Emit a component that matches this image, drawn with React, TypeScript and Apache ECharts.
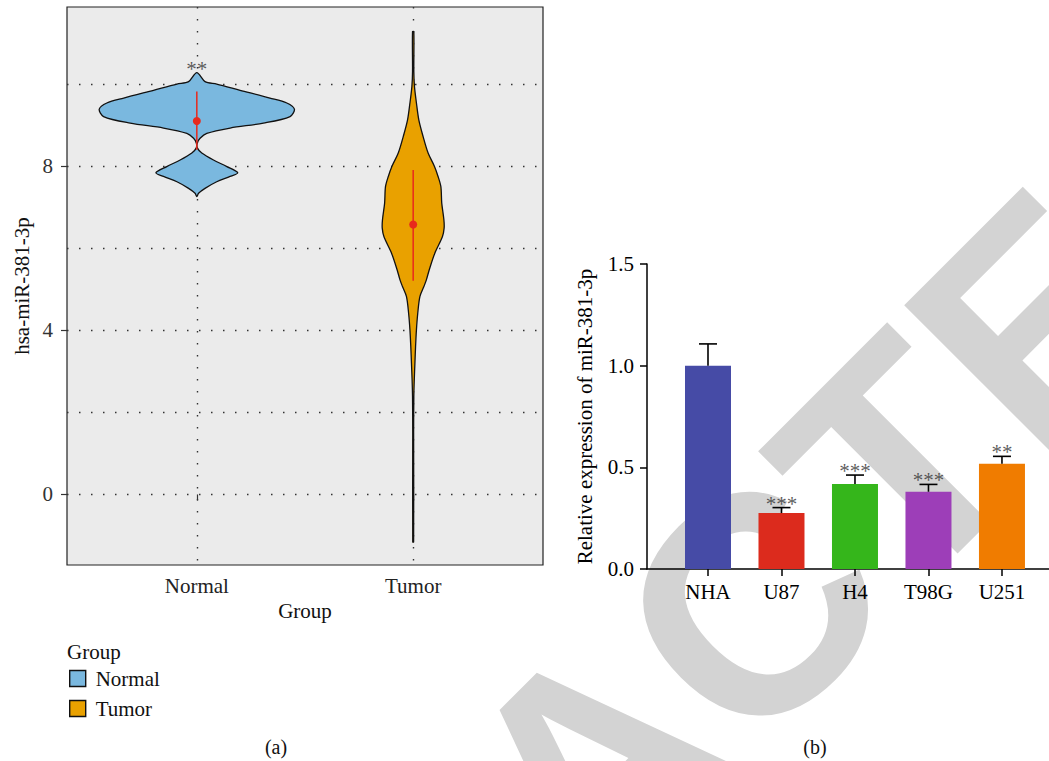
import React, { useEffect, useRef } from "react";
import * as echarts from "echarts";

const FONT = '"Liberation Serif", "DejaVu Serif", serif';

// ---- Panel (a): violin plot ----
const groups = ["Normal", "Tumor"];
const groupColors = ["#7AB8DF", "#E9A100"];

const normalY = [10.28, 10.06, 10.0, 9.85, 9.66, 9.54, 9.39, 9.21, 9.05, 8.93, 8.8, 8.68, 8.56, 8.44, 8.32, 8.15, 7.99, 7.84, 7.75, 7.62, 7.46, 7.34, 7.26];
const normalW = [0, 0.038, 0.092, 0.2, 0.338, 0.416, 0.451, 0.431, 0.308, 0.154, 0.046, 0.015, 0.002, 0.003, 0.023, 0.077, 0.139, 0.189, 0.154, 0.092, 0.038, 0.008, 0];

const tumorY = [11.28, 10.3, 9.94, 9.54, 9.13, 8.72, 8.32, 8.0, 7.75, 7.5, 7.1, 6.69, 6.49, 6.28, 5.88, 5.47, 5.23, 5.06, 4.82, 4.41, 4.01, 3.6, 3.2, 2.79, 2.38, 1.5, -1.16];
const tumorW = [0.003, 0.003, 0.006, 0.015, 0.026, 0.046, 0.069, 0.098, 0.115, 0.128, 0.132, 0.142, 0.143, 0.135, 0.1, 0.074, 0.061, 0.049, 0.031, 0.021, 0.015, 0.011, 0.008, 0.005, 0.003, 0.002, 0.002];

const summaryMean = [9.1, 6.58];
const summaryLow = [8.4, 5.21];
const summaryHigh = [9.82, 7.91];
const violinSig = ["**", ""];
const violinTop = [10.28, 11.28];

const violinYLabels = [0, 4, 8];
const violinYGrid = [0, 2, 4, 6, 8, 10];

// ---- Panel (b): bar chart ----
const cells = ["NHA", "U87", "H4", "T98G", "U251"];
const barMeans = [1.0, 0.275, 0.418, 0.38, 0.518];
const barTops = [1.107, 0.302, 0.462, 0.416, 0.554];
const barStars = ["", "***", "***", "***", "**"];
const barColors = ["#464BA6", "#DC2B1D", "#35B61B", "#9D3EB8", "#F07C00"];

function violinSeries(idx: number, ys: number[], ws: number[]) {
  return {
    type: "custom",
    name: groups[idx],
    xAxisIndex: 0,
    yAxisIndex: 0,
    z: 3,
    itemStyle: { color: groupColors[idx] },
    data: [[idx + 1, ys[0]]],
    encode: { x: 0, y: 1 },
    renderItem: (params: any, api: any) => {
      const cx = api.value(0);
      const right = ys.map((y, i) => api.coord([cx + ws[i], y]));
      const left: number[][] = [];
      for (let i = ys.length - 1; i >= 0; i--) {
        if (ws[i] > 0) left.push(api.coord([cx - ws[i], ys[i]]));
      }
      return {
        type: "polygon",
        shape: { points: [...right, ...left], smooth: 0.3 },
        style: { fill: groupColors[idx], stroke: "#111", lineWidth: 1.3 },
      };
    },
  };
}

export default function App() {
  const ref = useRef<HTMLDivElement>(null);

  useEffect(() => {
    if (!ref.current) return;
    const chart = echarts.init(ref.current, undefined, { renderer: "svg" });

    const dotted = { type: [1.5, 10.5], color: "#333", width: 1.4 };

    const option: any = {
      animation: false,
      textStyle: { fontFamily: FONT },
      grid: [
        {
          left: 67,
          top: 7,
          width: 476,
          height: 558,
          show: true,
          backgroundColor: "#EBEBEB",
          borderColor: "#222",
          borderWidth: 1.2,
        },
        { left: 647, top: 264, width: 402, height: 305 },
      ],
      xAxis: [
        {
          type: "value",
          gridIndex: 0,
          min: 0.4,
          max: 2.6,
          axisLine: { show: false },
          axisTick: { show: true, customValues: [1, 2], length: 6, lineStyle: { color: "#333", width: 1.2 } },
          axisLabel: {
            customValues: [1, 2],
            formatter: (v: number) => groups[Math.round(v) - 1] ?? "",
            margin: 10,
            fontSize: 21,
            color: "#222",
            fontFamily: FONT,
          },
          splitLine: { show: true, lineStyle: dotted },
          name: "Group",
          nameLocation: "middle",
          nameGap: 35,
          nameTextStyle: { fontSize: 21, color: "#111", fontFamily: FONT },
        },
        {
          type: "value",
          gridIndex: 1,
          min: 0.17,
          max: 5.64,
          axisLine: { show: true, onZero: false, lineStyle: { color: "#000", width: 1.5 } },
          axisTick: { show: true, customValues: [1, 2, 3, 4, 5], length: 7, lineStyle: { color: "#000", width: 1.5 } },
          axisLabel: {
            customValues: [1, 2, 3, 4, 5],
            formatter: (v: number) => cells[Math.round(v) - 1] ?? "",
            margin: 12,
            fontSize: 21,
            color: "#000",
            fontFamily: FONT,
          },
          splitLine: { show: false },
        },
      ],
      yAxis: [
        {
          type: "value",
          gridIndex: 0,
          min: -1.72,
          max: 11.88,
          axisLine: { show: false },
          axisTick: { show: true, customValues: violinYLabels, length: 6, lineStyle: { color: "#333", width: 1.2 } },
          axisLabel: { customValues: violinYLabels, margin: 14, fontSize: 21, color: "#333", fontFamily: FONT },
          splitLine: { show: false },
          name: "hsa-miR-381-3p",
          nameLocation: "middle",
          nameGap: 35,
          nameRotate: 90,
          nameTextStyle: { fontSize: 21, color: "#111", fontFamily: FONT },
        },
        {
          type: "value",
          gridIndex: 0,
          position: "left",
          min: -1.72,
          max: 11.88,
          axisLine: { show: false },
          axisTick: { show: false, customValues: violinYGrid },
          axisLabel: { show: false },
          splitLine: { show: true, lineStyle: dotted },
        },
        {
          type: "value",
          gridIndex: 1,
          min: 0,
          max: 1.5,
          interval: 0.5,
          axisLine: { show: true, lineStyle: { color: "#000", width: 1.5 } },
          axisTick: { show: true, length: 7, lineStyle: { color: "#000", width: 1.5 } },
          axisLabel: {
            formatter: (v: number) => v.toFixed(1),
            margin: 13,
            fontSize: 21,
            color: "#000",
            fontFamily: FONT,
          },
          splitLine: { show: false },
          name: "Relative expression of miR-381-3p",
          nameLocation: "middle",
          nameGap: 52,
          nameRotate: 90,
          nameTextStyle: { fontSize: 21, color: "#000", fontFamily: FONT },
        },
      ],
      legend: {
        orient: "vertical",
        left: 64,
        top: 663,
        itemWidth: 16,
        itemHeight: 16,
        itemGap: 9,
        icon: "rect",
        selectedMode: false,
        textStyle: { fontSize: 21, color: "#111", fontFamily: FONT, padding: [0, 0, 0, 5] },
        data: groups.map((g, i) => ({
          name: g,
          itemStyle: { color: groupColors[i], borderColor: "#111", borderWidth: 1.4 },
        })),
      },
      graphic: [
        {
          type: "text",
          x: 593,
          y: 766,
          rotation: Math.PI / 4,
          z: -1,
          silent: true,
          style: {
            text: "RETRACTED",
            font: 'bold 310px "Liberation Sans", Arial, sans-serif',
            fill: "#D3D3D3",
            align: "center",
            verticalAlign: "middle",
            textAlign: "center",
            textVerticalAlign: "middle",
          },
        },
        {
          type: "text",
          left: 67,
          top: 641,
          style: { text: "Group", font: `21px ${FONT}`, fill: "#111" },
        },
        {
          type: "text",
          x: 276,
          y: 747,
          style: { text: "(a)", font: `20px ${FONT}`, fill: "#111", align: "center", verticalAlign: "middle", textAlign: "center", textVerticalAlign: "middle" },
        },
        {
          type: "text",
          x: 815,
          y: 747,
          style: { text: "(b)", font: `20px ${FONT}`, fill: "#111", align: "center", verticalAlign: "middle", textAlign: "center", textVerticalAlign: "middle" },
        },
      ],
      series: [
        violinSeries(0, normalY, normalW),
        violinSeries(1, tumorY, tumorW),
        {
          type: "custom",
          name: "summary",
          xAxisIndex: 0,
          yAxisIndex: 0,
          z: 4,
          data: groups.map((g, i) => [i + 1, summaryMean[i], summaryLow[i], summaryHigh[i]]),
          encode: { x: 0, y: 1 },
          renderItem: (params: any, api: any) => {
            const x = api.value(0);
            const pm = api.coord([x, api.value(1)]);
            const pl = api.coord([x, api.value(2)]);
            const ph = api.coord([x, api.value(3)]);
            return {
              type: "group",
              children: [
                { type: "line", shape: { x1: pl[0], y1: pl[1], x2: ph[0], y2: ph[1] }, style: { stroke: "#E8291C", lineWidth: 1.5 } },
                { type: "circle", shape: { cx: pm[0], cy: pm[1], r: 4 }, style: { fill: "#E8291C" } },
              ],
            };
          },
        },
        {
          type: "scatter",
          name: "violinSig",
          xAxisIndex: 0,
          yAxisIndex: 0,
          symbolSize: 0,
          z: 5,
          data: groups.map((g, i) => [i + 1, violinTop[i]]),
          label: {
            show: true,
            position: "inside",
            offset: [0, -4],
            formatter: (p: any) => violinSig[p.dataIndex],
            fontSize: 21,
            color: "#333",
            fontFamily: FONT,
          },
        },
        {
          type: "bar",
          name: "expression",
          xAxisIndex: 1,
          yAxisIndex: 2,
          barWidth: 46,
          z: 3,
          data: cells.map((c, i) => ({ value: [i + 1, barMeans[i]], itemStyle: { color: barColors[i] } })),
        },
        {
          type: "custom",
          name: "errors",
          xAxisIndex: 1,
          yAxisIndex: 2,
          z: 4,
          data: cells.map((c, i) => [i + 1, barMeans[i], barTops[i]]),
          encode: { x: 0, y: 2 },
          renderItem: (params: any, api: any) => {
            const x = api.value(0);
            const p0 = api.coord([x, api.value(1)]);
            const p1 = api.coord([x, api.value(2)]);
            const st = { stroke: "#000", lineWidth: 1.6 };
            return {
              type: "group",
              children: [
                { type: "line", shape: { x1: p0[0], y1: p0[1], x2: p1[0], y2: p1[1] }, style: st },
                { type: "line", shape: { x1: p1[0] - 9, y1: p1[1], x2: p1[0] + 9, y2: p1[1] }, style: st },
              ],
            };
          },
        },
        {
          type: "scatter",
          name: "stars",
          xAxisIndex: 1,
          yAxisIndex: 2,
          symbolSize: 0,
          z: 5,
          data: cells.map((c, i) => [i + 1, barTops[i]]),
          label: {
            show: true,
            position: "inside",
            offset: [0, -4],
            formatter: (p: any) => barStars[p.dataIndex],
            fontSize: 21,
            color: "#333",
            fontFamily: FONT,
          },
        },
      ],
    };

    chart.setOption(option);
    return () => chart.dispose();
  }, []);

  return (
    <div
      ref={ref}
      style={{ position: "absolute", left: 0, top: 0, width: 1049, height: 761, background: "#fff" }}
    />
  );
}
